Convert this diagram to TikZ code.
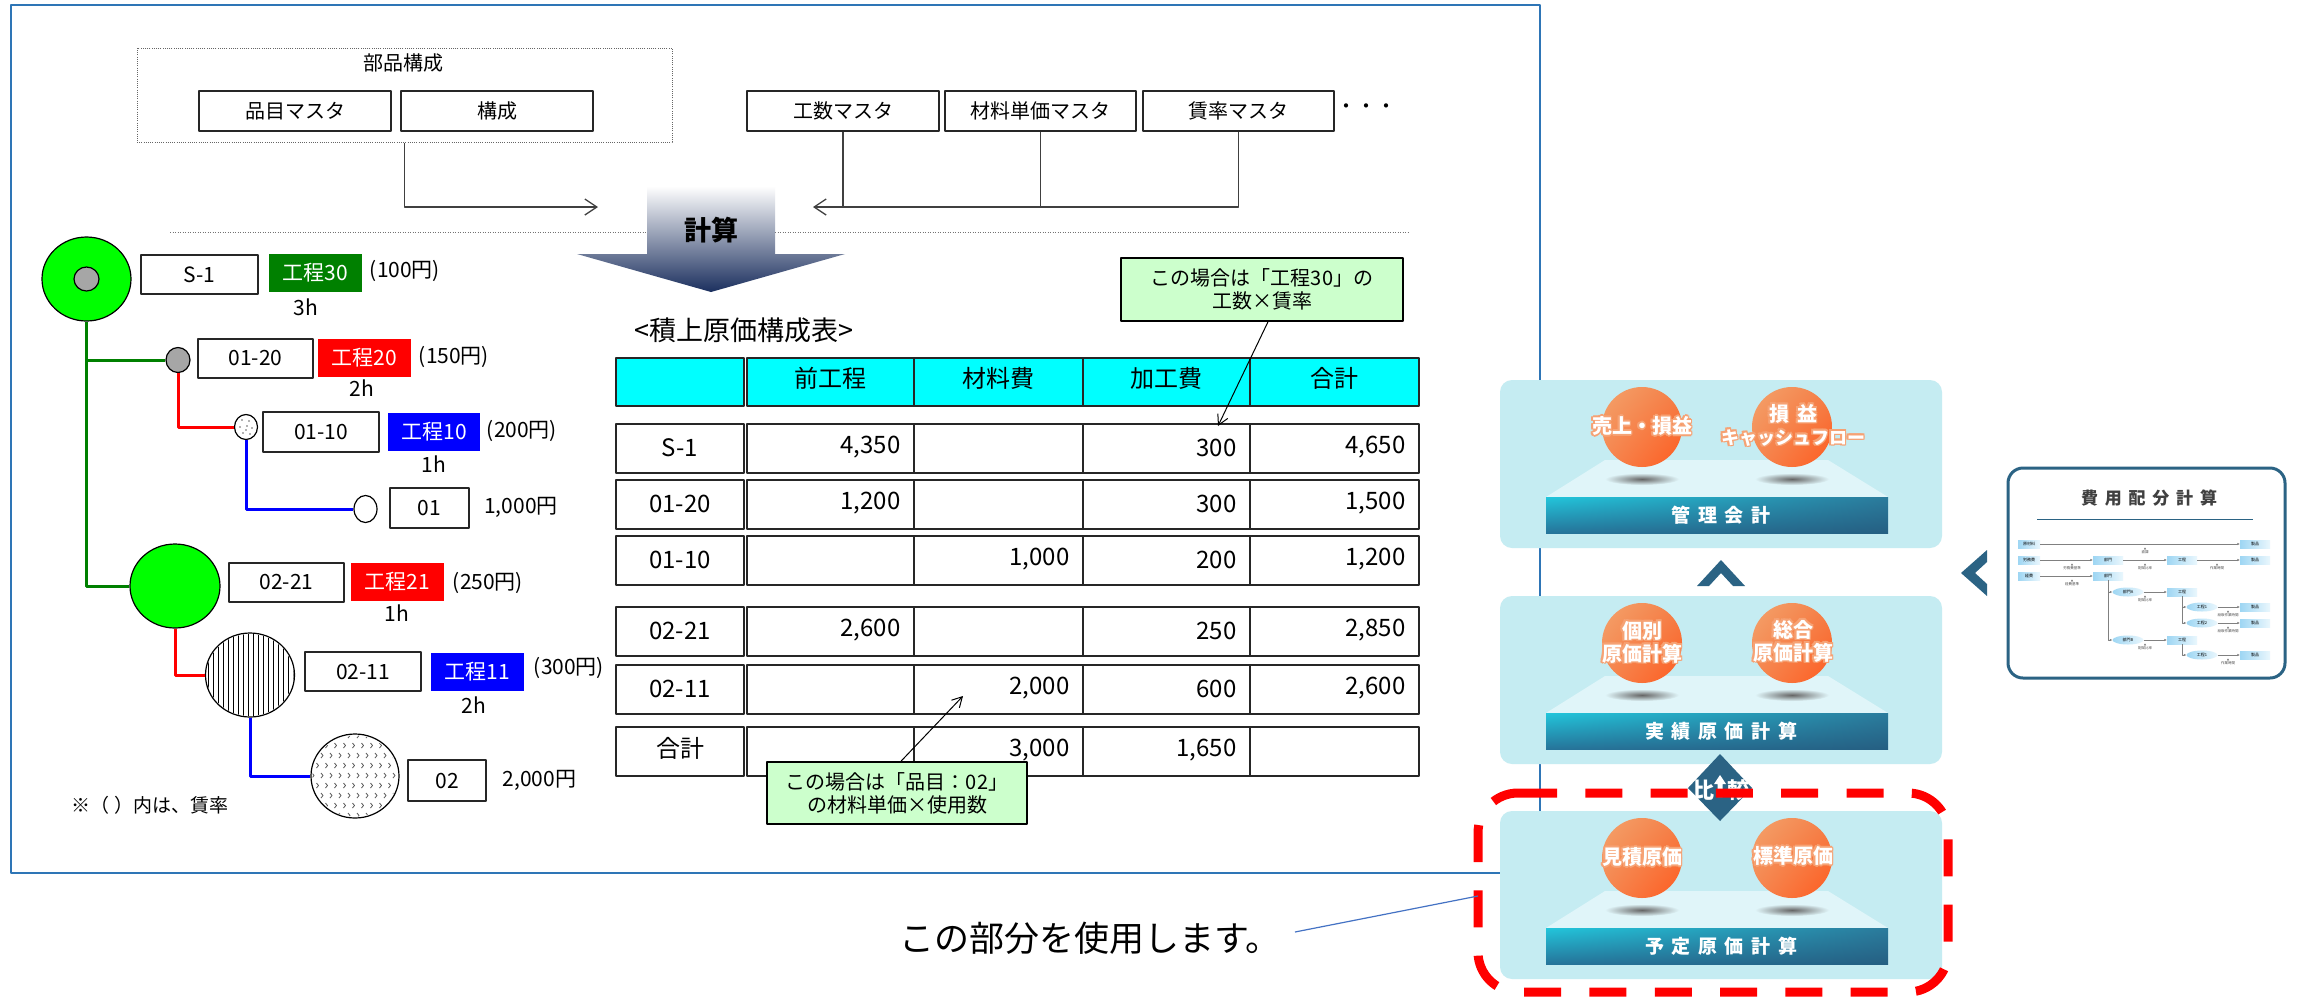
\documentclass[tikz,border=0pt]{standalone}
\usepackage{fontspec}
\setmainfont{Noto Sans CJK JP}
\newfontfamily\jpsp[LetterSpace=40]{Noto Sans CJK JP}
\usetikzlibrary{shapes.geometric,arrows.meta,calc,shadings}

\newcommand{\pxf}[1]{\fontsize{#1}{#1}\selectfont}

\definecolor{frameblue}{HTML}{2E75B6}
\definecolor{treegreen}{HTML}{008000}
\definecolor{partgreen}{HTML}{00FF00}
\definecolor{calloutgreen}{HTML}{CCFFCC}
\definecolor{tablecyan}{HTML}{00FFFF}
\definecolor{arrownavy}{HTML}{1B2F5E}
\definecolor{arrowmid}{HTML}{B3B9C6}
\definecolor{panelfill}{HTML}{C5ECF2}
\definecolor{platfill}{HTML}{E0F5F9}
\definecolor{barA}{HTML}{22C5DB}
\definecolor{barB}{HTML}{2B7B9C}
\definecolor{barC}{HTML}{26749A}
\definecolor{barD}{HTML}{255F82}
\definecolor{chevblue}{HTML}{2B6384}
\definecolor{ballA}{HTML}{F3A36C}
\definecolor{ballB}{HTML}{F47F48}
\definecolor{ballC}{HTML}{F58650}
\definecolor{ballD}{HTML}{FE5B1F}
\definecolor{glowor}{HTML}{F6A274}
\definecolor{dashred}{HTML}{FF0000}
\definecolor{pointerblue}{HTML}{4472C4}
\definecolor{mbl}{HTML}{9ED6F3}
\definecolor{mbr}{HTML}{EAF7FD}

\tikzset{
  tbox/.style={draw=black!85, line width=1.4, fill=white, inner sep=0, font=\pxf{21}},
  mbox/.style={tbox, font=\pxf{20}, minimum height=40},
  kbox/.style={inner sep=0, text=white, font=\pxf{21}, minimum width=93, minimum height=38},
  plain/.style={inner sep=0, font=\pxf{21}},
  part/.style={draw=black, line width=1.2, ellipse, inner sep=0},
  gline/.style={draw=treegreen, line width=3},
  rline/.style={draw=red, line width=3},
  bline/.style={draw=blue, line width=3},
  conn/.style={draw=black!75, line width=1.3},
  openarrow/.style={-{Straight Barb[length=12pt,width=16pt]}},
  cellbox/.style={draw=black!85, line width=1.4, inner sep=0},
  tnum/.style={inner sep=0, font=\pxf{24}},
  callout/.style={draw=black, line width=1.6, fill=calloutgreen, align=center, inner sep=0, font=\fontsize{20}{23}\selectfont},
  spheretext/.style={inner sep=0, align=center, font=\bfseries\fontsize{20}{23}\selectfont},
  bartext/.style={inner sep=0, text=white, font=\jpsp\bfseries\pxf{19}},
  mnode/.style={left color=mbl, right color=mbr, minimum width=30, minimum height=8, inner sep=0, font=\pxf{4}},
  mell/.style={mnode, ellipse, minimum width=31, minimum height=9},
  mline/.style={draw=black!50, line width=0.6, -{Latex[length=2.5pt,width=2.5pt]}},
  mlab/.style={inner sep=0, font=\pxf{3.5}, text=black!70}
}

% one table cell: [style] x1 y1 x2 y2 name
\newcommand{\tcell}[6][]{%
  \node[cellbox,#1,minimum width={#4-#2},minimum height={#5-#3}] (#6) at ({(#2+#4)/2},{(#3+#5)/2}) {};}

% one table row: name, top, bottom, label, four values
\newcommand{\trow}[8]{%
  \tcell{616}{#2}{744}{#3}{#1-a}
  \tcell{747}{#2}{914}{#3}{#1-b}
  \tcell{914}{#2}{1083}{#3}{#1-c}
  \tcell{1083}{#2}{1250}{#3}{#1-d}
  \tcell{1250}{#2}{1419}{#3}{#1-e}
  \node[tnum] (#1-ta) at ([yshift=1pt]#1-a.center) {#4};
  \node[tnum,anchor=east] (#1-tb) at ([xshift=-14pt,yshift=1pt]#1-b.east) {#5};
  \node[tnum,anchor=east] (#1-tc) at ([xshift=-14pt,yshift=1pt]#1-c.east) {#6};
  \node[tnum,anchor=east] (#1-td) at ([xshift=-14pt,yshift=1pt]#1-d.east) {#7};
  \node[tnum,anchor=east] (#1-te) at ([xshift=-14pt,yshift=1pt]#1-e.east) {#8};
}

% white label with an orange halo
\newcommand{\glowlabel}[3]{%
  \foreach \gx/\gy in {1.7/0,-1.7/0,0/1.7,0/-1.7,1.3/1.3,-1.3/1.3,1.3/-1.3,-1.3/-1.3}
    {\node[spheretext, text=glowor, xshift=\gx pt, yshift=\gy pt] at #1 {#3};}
  \node[spheretext, text=white] (#2) at #1 {#3};}

% one costing layer: name, top y, title, left ball text, right ball text
\newcommand{\costpanel}[5]{%
  \fill[panelfill, rounded corners=12] (1500,#2) rectangle (1942,{#2+168});
  \fill[platfill] (1605,{#2+80}) -- (1828,{#2+80}) -- (1888,{#2+117}) -- (1546,{#2+117}) -- cycle;
  \shade[upper left=barA, upper right=barB, lower left=barC, lower right=barD] (1546,{#2+117}) rectangle (1888,{#2+153});
  \node[bartext] (#1-title) at (1721,{#2+135}) {#3};
  \shade[inner color=black!60, outer color=platfill] (1642,{#2+99}) ellipse [x radius=37, y radius=6];
  \shade[inner color=black!60, outer color=platfill] (1792,{#2+99}) ellipse [x radius=37, y radius=6];
  \shade[upper left=ballA, upper right=ballB, lower left=ballC, lower right=ballD] (1642,{#2+47}) circle [radius=40];
  \shade[upper left=ballA, upper right=ballB, lower left=ballC, lower right=ballD] (1792,{#2+47}) circle [radius=40];
  \glowlabel{(1642,{#2+46})}{#1-l}{#4}
  \glowlabel{(1793,{#2+45})}{#1-r}{#5}
}

% small label under a flow line, with its marker
\newcommand{\mlabel}[4]{%
  \fill[black!65] (#1,{#2-4.5}) -- ({#1+1.1},{#2-2.6}) -- ({#1-1.1},{#2-2.6}) -- cycle;
  \node[mlab] (#4) at (#1,#2) {#3};}

\begin{document}
\begin{tikzpicture}[x=1pt, y=-1pt, line join=round]
\useasboundingbox (0,0) rectangle (2297,997);
\fill[white] (0,0) rectangle (2297,997);

% outer frame
\draw[frameblue, line width=2] (11,5) rectangle (1540,873);

% ---------- master data ----------
\node[draw=black!60, line width=1, dash pattern=on 1pt off 1.2pt, minimum width=535, minimum height=94, inner sep=0] (bom) at (404.5,95) {};
\node[plain, font=\pxf{20}] (bom-t) at (403,63) {部品構成};
\node[mbox, minimum width=192] (m-item) at (295,111) {品目マスタ};
\node[mbox, minimum width=192] (m-struct) at (497,111) {構成};
\node[mbox, minimum width=192] (m-work) at (843,111) {工数マスタ};
\node[mbox, minimum width=191] (m-mat) at (1040.5,111) {材料単価マスタ};
\node[mbox, minimum width=191] (m-rate) at (1238.5,111) {賃率マスタ};
\node[plain, font=\pxf{20}] (m-more) at (1366,109) {・・・};

\coordinate (calc-l) at (598,207);
\coordinate (calc-r) at (813,207);
\draw[conn, openarrow] (bom.south) |- (calc-l);
\draw[conn, openarrow] (m-rate.south) |- (calc-r);
\draw[conn] (m-work.south) -- (m-work.south |- calc-r);
\draw[conn] (m-mat.south) -- (m-mat.south |- calc-r);

% separator
\draw[black!55, line width=1, dash pattern=on 1pt off 1.5pt] (170,232) -- (1409,232);

% calculation arrow
\shade[top color=white, middle color=arrowmid, bottom color=arrownavy]
  (647,186) -- (775,186) -- (775,254) -- (845,254) -- (711,292) -- (577,254) -- (647,254) -- cycle;
\node[inner sep=0, font=\bfseries\pxf{27}] (calc) at (711,230) {計算};

% ---------- product tree ----------
\node[part, fill=partgreen, minimum width=89, minimum height=84] (c-s1) at (86.5,279) {};
\node[part, fill=black!35, minimum width=25, minimum height=24] (c-s1in) at (86.5,279) {};
\node[part, fill=black!35, minimum width=24, minimum height=25] (c-0120) at (178,360) {};
\node[part, fill=white, minimum width=23, minimum height=25] (c-0110) at (246,427) {};
\foreach \dx/\dy in {-4/-7,3/-6,-6/0,1/-1,6/1,-3/6,4/7,0/3}
  \fill[black!60] (246+\dx,427+\dy) circle [radius=0.8];
\node[part, fill=white, minimum width=23, minimum height=27] (c-01) at (365.5,509) {};
\node[part, fill=partgreen, minimum width=90, minimum height=84] (c-0221) at (175,586) {};
\node[part, fill=white, minimum width=89, minimum height=84] (c-0211) at (250,675) {};
\begin{scope}
  \clip (250,675) ellipse [x radius=43.5, y radius=41];
  \foreach \sx in {208,213,...,293} \draw[line width=1] (\sx,630) -- (\sx,720);
\end{scope}
\node[part, fill=white, minimum width=88, minimum height=84] (c-02) at (355,776) {};
\begin{scope}
  \clip (355,776) ellipse [x radius=42.5, y radius=40.5];
  \foreach \j in {0,...,8}{
    \foreach \i in {0,...,9}{
      \pgfmathsetmacro{\mx}{312+9*\i+4.5*mod(\j,2)}
      \pgfmathsetmacro{\my}{733+10*\j}
      \draw[black!65, line width=0.8] (\mx,\my) -- ++(2,2.5) -- ++(-2,2.5);
    }}
\end{scope}

\draw[gline] (c-s1.south) |- (c-0221.west);
\draw[gline] (c-s1.south |- c-0120.west) -- (c-0120.west);
\draw[rline] (c-0120.south) |- (c-0110.west);
\draw[bline] (c-0110.south) |- (c-01.west);
\draw[rline] (c-0221.south) |- (c-0211.west);
\draw[bline] (c-0211.south) |- (c-02.west);

\node[tbox, minimum width=117, minimum height=39] (b-s1) at (199.5,274.5) {S-1};
\node[kbox, fill=treegreen] (k-30) at (315.5,273) {工程30};
\node[plain] (r-30) at (405,271) {(100円)};
\node[plain] (h-30) at (306,307) {3h};

\node[tbox, minimum width=115, minimum height=39] (b-0120) at (255.5,358.5) {01-20};
\node[kbox, fill=red] (k-20) at (364.5,358) {工程20};
\node[plain] (r-20) at (454,357) {(150円)};
\node[plain] (h-20) at (362,388) {2h};

\node[tbox, minimum width=116, minimum height=40] (b-0110) at (321,432) {01-10};
\node[kbox, fill=blue, minimum width=92] (k-10) at (434,432) {工程10};
\node[plain] (r-10) at (522,431) {(200円)};
\node[plain] (h-10) at (434,464) {1h};

\node[tbox, minimum width=79, minimum height=40] (b-01) at (429.5,508) {01};
\node[plain] (p-01) at (521,507) {1,000円};

\node[tbox, minimum width=115, minimum height=39] (b-0221) at (286.5,582.5) {02-21};
\node[kbox, fill=red] (k-21) at (397.5,582) {工程21};
\node[plain] (r-21) at (488,583) {(250円)};
\node[plain] (h-21) at (397,613) {1h};

\node[tbox, minimum width=116, minimum height=39] (b-0211) at (363,671.5) {02-11};
\node[kbox, fill=blue] (k-11) at (477.5,672) {工程11};
\node[plain] (r-11) at (569,668) {(300円)};
\node[plain] (h-11) at (474,705) {2h};

\node[tbox, minimum width=78, minimum height=41] (b-02) at (447,780.5) {02};
\node[plain] (p-02) at (539.5,780) {2,000円};

\node[plain, font=\pxf{19}] (note) at (150,805) {※（ ）内は、賃率};

% ---------- cost build-up table ----------
\node[plain, font=\pxf{27}] (tbl-title) at (743.5,330) {<積上原価構成表>};
\tcell[fill=tablecyan]{616}{358}{744}{406}{h-a}
\tcell[fill=tablecyan]{747}{358}{914}{406}{h-b}
\tcell[fill=tablecyan]{914}{358}{1083}{406}{h-c}
\tcell[fill=tablecyan]{1083}{358}{1250}{406}{h-d}
\tcell[fill=tablecyan]{1250}{358}{1419}{406}{h-e}
\node[tnum] (h-tb) at ([yshift=4pt]h-b.center) {前工程};
\node[tnum] (h-tc) at ([yshift=4pt]h-c.center) {材料費};
\node[tnum] (h-td) at ([yshift=4pt]h-d.center) {加工費};
\node[tnum] (h-te) at ([yshift=4pt]h-e.center) {合計};

\trow{r1}{424}{473}{S-1}{4,350}{}{300}{4,650}
\trow{r2}{480}{529}{01-20}{1,200}{}{300}{1,500}
\trow{r3}{536}{585}{01-10}{}{1,000}{200}{1,200}
\trow{r4}{607}{656}{02-21}{2,600}{}{250}{2,850}
\trow{r5}{665}{714}{02-11}{}{2,000}{600}{2,600}
\trow{r6}{727}{776}{\raisebox{7pt}{合計}}{}{3,000}{1,650}{}

% notes
\node[callout, minimum width=282, minimum height=63] (co1) at (1262,289.5) {この場合は「工程30」の\\工数×賃率};
\coordinate (tip1) at (1218,426);
\draw[black, line width=1, -{Straight Barb[length=10pt,width=11pt]}] ([xshift=6pt]co1.south) -- (tip1);

\node[callout, minimum width=260, minimum height=62] (co2) at (897,793) {この場合は「品目：02」\\の材料単価×使用数};
\coordinate (tip2) at (963,696);
\draw[black, line width=1, -{Straight Barb[length=10pt,width=11pt]}] ([xshift=4pt]co2.north) -- (tip2);

% ---------- costing layers ----------
\costpanel{pm}{380}{管理会計}{売上・損益}{損\hspace{8pt}益\\{\fontsize{18}{22}\selectfont キャッシュフロー}}
\costpanel{pa}{596}{実績原価計算}{個別\\原価計算}{総合\\原価計算}
\costpanel{pp}{811}{予定原価計算}{見積原価}{標準原価}

% chevron between management and actual costing
\fill[chevblue] (1697,586) -- (1721,560) -- (1745,586) -- (1733,586) -- (1721,573) -- (1709,586) -- cycle;
% comparison marker
\fill[chevblue] (1720,754) -- (1752,788) -- (1720,821) -- (1688,788) -- cycle;
\fill[white] (1720,775) -- (1726,784) -- (1722.5,784) -- (1722.5,797) -- (1717.5,797) -- (1717.5,784) -- (1714,784) -- cycle;
\node[inner sep=0, text=white, font=\bfseries\pxf{22}] (cmp) at (1721,790) {比\hspace{13pt}較};

% chevron towards the allocation box
\fill[chevblue] (1987,550) -- (1961,573) -- (1987,596) -- (1987,584) -- (1975,573) -- (1987,562) -- cycle;

% ---------- allocation overview ----------
\node[draw=chevblue, line width=3, rounded corners=15, fill=white, minimum width=277, minimum height=210, inner sep=0] (alloc) at (2146.5,573) {};
\node[inner sep=0, text=black!75, font=\jpsp\bfseries\pxf{17}] (alloc-t) at (2149,498) {費用配分計算};
\draw[chevblue, line width=1] (2037,519) -- (2253,519);

\node[mnode, minimum width=22] (x-raw) at (2029,544) {原材料};
\node[mnode, minimum width=22] (x-lab) at (2029,560) {労務費};
\node[mnode, minimum width=22] (x-exp) at (2029,576) {経費};
\node[mnode] (x-p1) at (2255,544) {製品};
\node[mnode] (x-d1) at (2108,560) {部門};
\node[mnode] (x-k1) at (2182,560) {工程};
\node[mnode] (x-p2) at (2255,560) {製品};
\node[mnode] (x-d2) at (2108,576) {部門};
\node[mell] (x-dA) at (2128,592) {部門A};
\node[mnode] (x-kA) at (2182,592) {工程};
\node[mell] (x-e1) at (2202,607) {工程1};
\node[mnode] (x-p3) at (2255,607) {製品};
\node[mell] (x-e2) at (2202,623) {工程2};
\node[mnode] (x-p4) at (2255,623) {製品};
\node[mell] (x-dB) at (2128,640) {部門B};
\node[mnode] (x-kB) at (2182,640) {工程};
\node[mell] (x-e3) at (2202,655) {工程1};
\node[mnode] (x-p5) at (2255,655) {製品};

\draw[mline] (x-raw) -- (x-p1);
\draw[mline] (x-lab) -- (x-d1);
\draw[mline] (x-d1) -- (x-k1);
\draw[mline] (x-k1) -- (x-p2);
\draw[mline] (x-exp) -- (x-d2);
\draw[mline] (x-d2.south) |- (x-dA.west);
\draw[mline] (x-d2.south) |- (x-dB.west);
\draw[mline] (x-dA) -- (x-kA);
\draw[mline] (x-kA.south) |- (x-e1.west);
\draw[mline] (x-kA.south) |- (x-e2.west);
\draw[mline] (x-e1) -- (x-p3);
\draw[mline] (x-e2) -- (x-p4);
\draw[mline] (x-dB) -- (x-kB);
\draw[mline] (x-kB.south) |- (x-e3.west);
\draw[mline] (x-e3) -- (x-p5);

\mlabel{2145}{552}{直課}{x-l1}
\mlabel{2072}{568}{労務費基準}{x-l2}
\mlabel{2145}{568}{配賦比率}{x-l3}
\mlabel{2217}{568}{作業時間}{x-l4}
\mlabel{2072}{584}{経費基準}{x-l5}
\mlabel{2145}{600}{配賦比率}{x-l6}
\mlabel{2228}{615}{段取作業時間}{x-l7}
\mlabel{2228}{631}{段取作業時間}{x-l8}
\mlabel{2145}{648}{配賦比率}{x-l9}
\mlabel{2228}{663}{作業時間}{x-l10}

% ---------- scope used ----------
\draw[dashred, line width=9, dash pattern=on 37pt off 28.3pt, rounded corners=40]
  (1520,793) -- (1948,793) -- (1948,992) -- (1478,992) -- (1478,793) -- (1520,793);
\node[inner sep=0, font=\pxf{35}] (use) at (1090,938) {この部分を使用します。};
\coordinate (scope-l) at (1478,896);
\draw[pointerblue, line width=1.2] ([xshift=14pt,yshift=6pt]use.east) -- (scope-l);

\end{tikzpicture}
\end{document}
